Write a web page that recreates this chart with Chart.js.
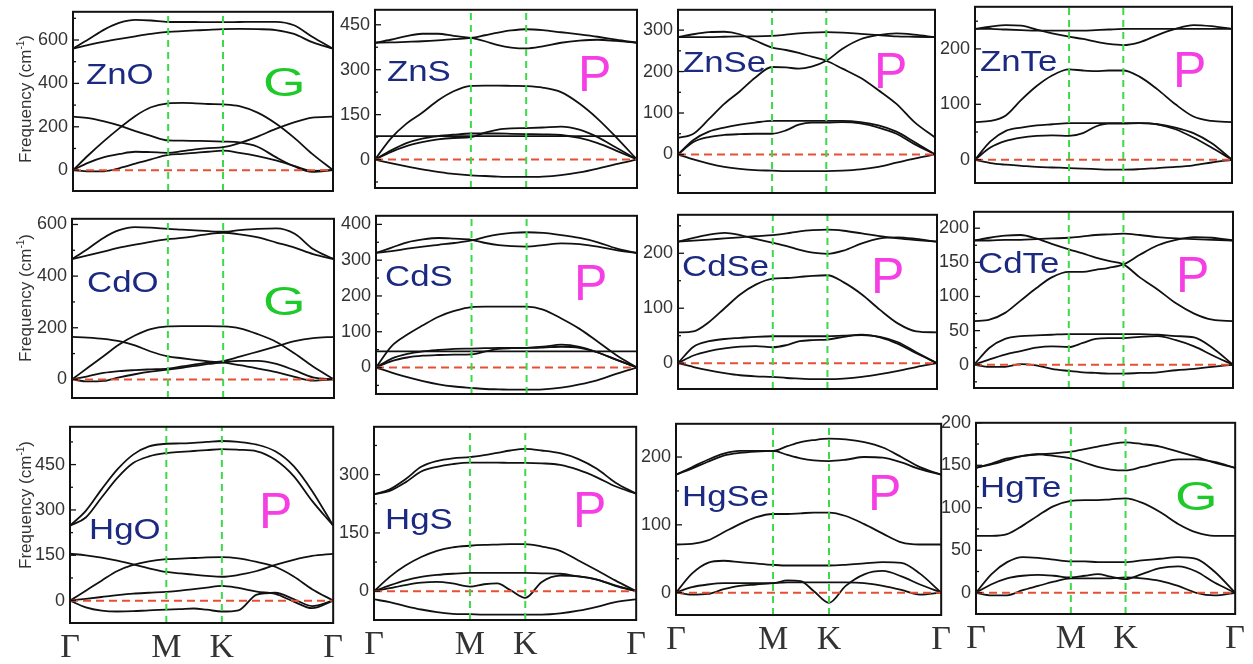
<!DOCTYPE html>
<html><head><meta charset="utf-8">
<script src="https://cdn.jsdelivr.net/npm/chart.js@4.4.0/dist/chart.umd.min.js"></script>
<style>
html,body{margin:0;padding:0;background:#fff;width:1253px;height:664px;overflow:hidden;position:relative;font-family:"Liberation Sans",Arial,sans-serif}
canvas{position:absolute}
.name{position:absolute;color:#1b2a80;font-size:29px;line-height:1;transform-origin:left center;transform:scaleX(1.2);white-space:nowrap}
.tagP{position:absolute;color:#f53ee3;font-size:50px;line-height:1;white-space:nowrap}
.tagG{position:absolute;color:#1ec92a;font-size:40px;line-height:1;transform-origin:left center;transform:scaleX(1.37);white-space:nowrap}
.ylab{position:absolute;font-size:17px;color:#333;transform:translate(-50%,-50%) rotate(-90deg);white-space:nowrap;line-height:1}
.ylab sup{font-size:10px;vertical-align:7px;line-height:0}
</style></head><body>
<script>
// path coordinate (fraction of Γ-M-K-Γ length)
const KX = [0, .06, .12, .18, .24, .30, .366, .42, .47, .52, .577, .64, .71, .78, .85, .92, 1];
const KPOINTS = [0, 0.366, 0.577, 1];
const KLABELS = ['Γ', 'M', 'K', 'Γ'];

const NAMES = ['ZnO','ZnS','ZnSe','ZnTe','CdO','CdS','CdSe','CdTe','HgO','HgS','HgSe','HgTe'];
const PHASES = ['G','P','P','P','G','P','P','P','P','P','P','G'];

const TICKS_ZnO = [0,200,400,600];
const TICKS_ZnS = [0,150,300,450];
const TICKS_ZnSe = [0,100,200,300];
const TICKS_ZnTe = [0,100,200];
const TICKS_CdO = [0,200,400,600];
const TICKS_CdS = [0,100,200,300,400];
const TICKS_CdSe = [0,100,200];
const TICKS_CdTe = [0,50,100,150,200];
const TICKS_HgO = [0,150,300,450];
const TICKS_HgS = [0,150,300];
const TICKS_HgSe = [0,100,200];
const TICKS_HgTe = [0,50,100,150,200];

const YR_ZnO = [-96, 730];
const YR_ZnS = [-95, 500];
const YR_ZnSe = [-93, 349];
const YR_ZnTe = [-42, 276];
const YR_CdO = [-72, 622];
const YR_CdS = [-74, 424];
const YR_CdSe = [-47, 270];
const YR_CdTe = [-34, 224];
const YR_HgO = [-74, 575];
const YR_HgS = [-74, 423];
const YR_HgSe = [-33, 249];
const YR_HgTe = [-25, 200];

const BANDS_ZnO = [
 [560, 603, 648, 680, 693, 690, 683, 683, 683, 682, 682, 683, 684, 684, 668, 615, 560],
 [560, 577, 592, 605, 617, 628, 637, 641, 644, 647, 650, 651, 650, 646, 628, 590, 560],
 [247, 240, 225, 205, 180, 158, 137, 136, 135, 134, 132, 128, 108, 60, 18, -8, 0],
 [0, 70, 135, 195, 250, 290, 308, 310, 308, 305, 303, 295, 265, 215, 150, 75, 0],
 [0, 35, 60, 75, 85, 83, 80, 88, 96, 102, 106, 125, 155, 190, 220, 242, 247],
 [0, -6, -5, 10, 30, 50, 70, 75, 80, 85, 90, 80, 65, 45, 20, -3, 0]
];
const BANDS_ZnS = [
 [390, 400, 412, 420, 420, 413, 406, 395, 382, 374, 371, 378, 390, 397, 400, 396, 390],
 [390, 391, 393, 395, 398, 402, 406, 415, 424, 431, 435, 432, 425, 418, 410, 400, 390],
 [0, 70, 120, 156, 197, 228, 246, 247, 247, 246, 245, 240, 225, 187, 136, 75, 0],
 [78, 78, 78, 78, 78, 78, 78, 78, 78, 78, 78, 78, 78, 78, 78, 78, 78],
 [0, 25, 45, 58, 67, 72, 75, 90, 100, 104, 105, 107, 110, 100, 75, 40, 0],
 [0, 30, 55, 70, 78, 83, 87, 87, 87, 86, 85, 84, 82, 72, 55, 30, 0],
 [0, -12, -23, -33, -41, -48, -53, -55, -57, -58, -58, -57, -52, -43, -30, -15, 0]
];
const BANDS_ZnSe = [
 [283, 283, 283, 284, 285, 285, 286, 289, 292, 294, 295, 294, 291, 288, 285, 284, 283],
 [283, 290, 295, 296, 290, 275, 258, 252, 245, 236, 226, 207, 185, 155, 122, 78, 41],
 [40, 50, 85, 122, 152, 185, 211, 210, 207, 212, 226, 255, 278, 288, 292, 289, 283],
 [0, 35, 55, 65, 72, 77, 81, 81, 81, 81, 81, 81, 78, 70, 55, 30, 0],
 [0, 30, 42, 47, 49, 50, 50, 58, 72, 77, 77, 78, 75, 65, 50, 25, 0],
 [0, -12, -22, -30, -35, -38, -39, -40, -40, -40, -40, -39, -36, -30, -20, -10, 0]
];
const BANDS_ZnTe = [
 [236, 236, 235, 234, 233, 233, 233, 233, 234, 235, 236, 236, 236, 236, 236, 236, 236],
 [236, 240, 243, 242, 235, 228, 222, 218, 213, 209, 207, 212, 225, 236, 243, 241, 236],
 [68, 70, 80, 108, 133, 152, 163, 161, 160, 161, 161, 150, 127, 100, 78, 70, 68],
 [0, 33, 52, 58, 62, 64, 66, 66, 66, 66, 66, 66, 64, 58, 48, 30, 0],
 [0, 22, 34, 40, 43, 44, 43, 48, 60, 65, 65, 66, 64, 55, 40, 22, 0],
 [0, -6, -9, -11, -13, -14, -15, -16, -17, -18, -18, -17, -15, -13, -10, -5, 0]
];
const BANDS_CdO = [
 [466, 505, 548, 578, 590, 588, 583, 580, 577, 574, 572, 578, 583, 585, 564, 505, 466],
 [466, 480, 495, 510, 522, 533, 543, 548, 555, 563, 568, 562, 550, 530, 510, 485, 466],
 [165, 162, 157, 148, 132, 108, 89, 82, 76, 70, 65, 55, 42, 28, 10, -5, 0],
 [0, 45, 90, 135, 170, 195, 205, 206, 206, 206, 205, 198, 175, 145, 100, 50, 0],
 [0, 12, 25, 32, 36, 39, 42, 50, 58, 65, 71, 88, 108, 128, 148, 160, 165],
 [0, -8, -6, 8, 20, 30, 38, 45, 52, 60, 66, 72, 72, 60, 35, 8, 0]
];
const BANDS_CdS = [
 [320, 335, 350, 358, 362, 360, 357, 348, 342, 339, 338, 342, 347, 345, 338, 328, 320],
 [320, 325, 332, 338, 343, 348, 355, 365, 372, 376, 378, 376, 370, 362, 350, 333, 320],
 [0, 60, 92, 118, 142, 158, 169, 170, 170, 170, 170, 162, 137, 108, 72, 35, 0],
 [45, 45, 45, 45, 45, 45, 45, 45, 45, 45, 45, 45, 45, 45, 45, 45, 45],
 [0, 18, 28, 33, 35, 36, 37, 45, 52, 54, 55, 58, 64, 58, 42, 22, 0],
 [0, 25, 38, 45, 49, 52, 53, 54, 55, 55, 55, 56, 58, 55, 42, 22, 0],
 [0, -14, -27, -38, -47, -53, -57, -60, -61, -62, -62, -61, -56, -47, -35, -18, 0]
];
const BANDS_CdSe = [
 [221, 223, 225, 227, 229, 231, 233, 236, 240, 242, 243, 241, 236, 231, 227, 224, 221],
 [221, 228, 234, 237, 233, 226, 219, 213, 206, 201, 199, 205, 218, 227, 229, 226, 221],
 [56, 58, 75, 100, 125, 143, 154, 155, 157, 159, 160, 147, 125, 97, 72, 58, 56],
 [0, 30, 40, 44, 46, 48, 49, 49, 49, 49, 49, 50, 51, 48, 38, 20, 0],
 [0, 14, 22, 27, 30, 31, 29, 33, 40, 42, 43, 48, 52, 47, 35, 18, 0],
 [0, -7, -13, -18, -22, -24, -25, -27, -28, -29, -29, -28, -25, -20, -14, -7, 0]
];
const BANDS_CdTe = [
 [182, 182, 183, 183, 184, 185, 186, 188, 190, 191, 192, 190, 187, 185, 184, 183, 182],
 [182, 186, 189, 190, 185, 177, 169, 163, 157, 152, 147, 128, 110, 90, 75, 66, 64],
 [64, 66, 76, 94, 112, 128, 136, 136, 139, 142, 147, 161, 175, 183, 187, 186, 182],
 [0, 25, 38, 42, 43, 44, 45, 45, 45, 45, 45, 45, 44, 42, 40, 25, 0],
 [0, 8, 15, 20, 25, 27, 26, 32, 38, 39, 39, 41, 42, 36, 27, 14, 0],
 [0, -3, -3, 1, -1, -6, -9, -11, -12, -13, -13, -12, -11, -8, -6, -3, 0]
];
const BANDS_HgO = [
 [248, 297, 368, 434, 483, 510, 519, 520, 522, 525, 528, 525, 516, 494, 445, 363, 248],
 [248, 275, 341, 406, 455, 477, 488, 492, 495, 498, 501, 499, 494, 466, 412, 330, 248],
 [155, 150, 142, 132, 120, 107, 95, 90, 86, 82, 79, 85, 98, 118, 135, 148, 155],
 [0, 33, 66, 98, 118, 130, 137, 139, 141, 143, 144, 140, 128, 112, 80, 38, 0],
 [0, 6, 12, 18, 23, 26, 29, 33, 38, 43, 49, 42, 30, 22, -3, -25, 0],
 [0, -22, -33, -36, -35, -32, -30, -28, -26, -30, -36, -32, 20, 26, 5, -18, 0]
];
const BANDS_HgS = [
 [249, 262, 288, 320, 335, 342, 345, 350, 356, 362, 366, 362, 355, 340, 315, 280, 251],
 [249, 258, 280, 308, 320, 327, 331, 331, 331, 330, 330, 329, 325, 312, 293, 270, 251],
 [0, 37, 66, 88, 104, 113, 117, 119, 120, 121, 121, 115, 104, 79, 54, 28, 0],
 [0, 15, 28, 37, 42, 45, 47, 47, 47, 47, 47, 46, 45, 38, 30, 15, 0],
 [0, 8, 16, 22, 24, 20, 12, 18, 20, 3, -17, 24, 40, 38, 30, 14, 0],
 [-21, -28, -38, -47, -54, -58, -59, -60, -60, -60, -60, -60, -57, -50, -40, -28, -21]
];
const BANDS_HgSe = [
 [174, 185, 196, 205, 209, 209, 209, 216, 222, 225, 227, 226, 222, 214, 200, 185, 174],
 [174, 183, 193, 202, 206, 208, 209, 203, 198, 195, 194, 196, 200, 199, 192, 182, 174],
 [71, 72, 77, 89, 101, 111, 116, 116, 117, 118, 118, 113, 101, 87, 74, 71, 71],
 [0, 28, 44, 47, 45, 43, 41, 40, 40, 40, 40, 41, 43, 45, 44, 28, 0],
 [0, 8, 12, 14, 14, 14, 14, 18, 17, 2, -15, 10, 27, 32, 24, 12, 0],
 [0, -3, -2, 5, 10, 12, 14, 15, 15, 15, 15, 15, 14, 10, 4, -3, 0]
];
const BANDS_HgTe = [
 [147, 152, 158, 161, 163, 164, 166, 169, 172, 175, 177, 175, 172, 166, 160, 153, 147],
 [147, 151, 156, 161, 163, 161, 158, 153, 148, 145, 144, 148, 153, 157, 157, 154, 147],
 [67, 67, 69, 79, 91, 102, 108, 109, 109, 110, 111, 106, 95, 81, 71, 67, 67],
 [0, 22, 36, 42, 41, 39, 37, 37, 36, 36, 36, 38, 40, 42, 40, 25, 0],
 [0, 10, 17, 20, 21, 20, 18, 20, 22, 19, 16, 22, 29, 31, 25, 12, 0],
 [0, -3, -3, 3, 8, 13, 17, 17, 17, 17, 18, 17, 14, 8, 0, -3, 0]
];

const DATA = {
 ZnO:[BANDS_ZnO,TICKS_ZnO,YR_ZnO], ZnS:[BANDS_ZnS,TICKS_ZnS,YR_ZnS], ZnSe:[BANDS_ZnSe,TICKS_ZnSe,YR_ZnSe], ZnTe:[BANDS_ZnTe,TICKS_ZnTe,YR_ZnTe],
 CdO:[BANDS_CdO,TICKS_CdO,YR_CdO], CdS:[BANDS_CdS,TICKS_CdS,YR_CdS], CdSe:[BANDS_CdSe,TICKS_CdSe,YR_CdSe], CdTe:[BANDS_CdTe,TICKS_CdTe,YR_CdTe],
 HgO:[BANDS_HgO,TICKS_HgO,YR_HgO], HgS:[BANDS_HgS,TICKS_HgS,YR_HgS], HgSe:[BANDS_HgSe,TICKS_HgSe,YR_HgSe], HgTe:[BANDS_HgTe,TICKS_HgTe,YR_HgTe]
};

// layout: frame [left, top, right, bottom], name [x, baseline], tag [x, baseline]
const LAYOUT = {
 ZnO:{frame:[73,10,333,205], name:[86,85], tag:[263,96]},
 ZnS:{frame:[375,8,637,202], name:[387,82], tag:[578,91]},
 ZnSe:{frame:[678,8,935,207], name:[683,73], tag:[874,88]},
 ZnTe:{frame:[975,5,1232,197], name:[980,72], tag:[1173,87]},
 CdO:{frame:[72,217,334,412], name:[87,293], tag:[263,315]},
 CdS:{frame:[376,214,637,408], name:[385,287], tag:[574,300]},
 CdSe:{frame:[678,213,937,403], name:[682,277], tag:[871,293]},
 CdTe:{frame:[974,210,1233,402], name:[978,274], tag:[1176,292]},
 HgO:{frame:[70,425,334,623], name:[89,540], tag:[259,528]},
 HgS:{frame:[374,425,637,620], name:[385,530], tag:[573,527]},
 HgSe:{frame:[676,422,942,615], name:[682,507], tag:[868,510]},
 HgTe:{frame:[976,421,1236,614], name:[980,498], tag:[1175,510]}
};
const YLAB_CENTERS = [[25,99],[25,298],[25,505]];

const SANS = '"Liberation Sans", Arial, sans-serif';
const SERIF = '"Liberation Serif", "Times New Roman", serif';
Chart.defaults.font.family = SANS;

const framePlugin = {
  id: 'frame',
  afterDatasetsDraw(chart) {
    const {ctx, chartArea: a, scales: {y}} = chart;
    ctx.save();
    ctx.strokeStyle = '#111';
    const tv = y.ticks.map(t => t.value);
    const step = tv[1] - tv[0];
    ctx.lineWidth = 1.3;
    for (let v = tv[0] - step; v <= y.max; v += step / 2) {
      if (v < y.min) continue;
      const py = y.getPixelForValue(v);
      const major = Math.abs(((v - tv[0]) / step) - Math.round((v - tv[0]) / step)) < 1e-6;
      ctx.beginPath();
      ctx.moveTo(a.left, py);
      ctx.lineTo(a.left + (major ? 6 : 3), py);
      ctx.stroke();
    }
    ctx.lineWidth = 2;
    ctx.strokeRect(a.left, a.top, a.right - a.left, a.bottom - a.top);
    ctx.restore();
  }
};

function addText(cls, html, x, baseline, fs) {
  const d = document.createElement('div');
  d.className = cls;
  d.innerHTML = html;
  d.style.left = x + 'px';
  d.style.top = (baseline - 0.8465 * fs) + 'px';
  document.body.appendChild(d);
}

NAMES.forEach((name, i) => {
  const [bands, ticks, yr] = DATA[name];
  const L = LAYOUT[name];
  const [l, t, r, b] = L.frame;
  const row3 = i >= 8;
  const padL = 62, padT = 14, padR = 14, padB = row3 ? 50 : 14;
  const cv = document.createElement('canvas');
  cv.width = r - l + padL + padR;
  cv.height = b - t + padT + padB;
  cv.style.left = (l - padL) + 'px';
  cv.style.top = (t - padT) + 'px';
  document.body.appendChild(cv);

  const [ymin, ymax] = yr;
  const vline = (xv) => ({
    data: [{x: xv, y: ymin}, {x: xv, y: ymax}],
    borderColor: '#3cd94b', borderWidth: 2, borderDash: [7, 5], pointRadius: 0, fill: false
  });
  const datasets = [
    vline(KPOINTS[1]), vline(KPOINTS[2]),
    {data: [{x: 0, y: 0}, {x: 1, y: 0}], borderColor: '#e55034', borderWidth: 2, borderDash: [8, 5], pointRadius: 0, fill: false},
    ...bands.map(arr => ({
      data: KX.map((x, j) => ({x, y: arr[j]})),
      borderColor: '#111', borderWidth: 1.8, pointRadius: 0, fill: false,
      cubicInterpolationMode: 'monotone'
    }))
  ];

  new Chart(cv, {
    type: 'line',
    data: {datasets},
    plugins: [framePlugin],
    options: {
      responsive: false, animation: false, devicePixelRatio: 1, events: [],
      layout: {padding: {left: 0, top: padT, right: padR, bottom: row3 ? 0 : padB}},
      plugins: {legend: {display: false}, tooltip: {enabled: false}},
      scales: {
        x: {
          type: 'linear', min: 0, max: 1, display: row3,
          grid: {display: false, drawTicks: false}, border: {display: false},
          afterBuildTicks: (ax) => { ax.ticks = KPOINTS.map(v => ({value: v})); },
          afterFit: (s) => { s.height = padB; },
          ticks: {autoSkip: false, maxRotation: 0, padding: 5, color: '#333',
                  font: {family: SERIF, size: 34}, callback: (v, idx) => KLABELS[idx]}
        },
        y: {
          min: ymin, max: ymax,
          grid: {display: false, drawTicks: false}, border: {display: false},
          afterBuildTicks: (ax) => { ax.ticks = ticks.map(v => ({value: v})); },
          afterFit: (s) => { s.width = padL; },
          ticks: {autoSkip: false, padding: 5, color: '#333', font: {size: 18}}
        }
      }
    }
  });

  addText('name', name, L.name[0], L.name[1], 29);
  if (PHASES[i] === 'P') addText('tagP', 'P', L.tag[0], L.tag[1], 50);
  else addText('tagG', 'G', L.tag[0], L.tag[1], 40);
});

YLAB_CENTERS.forEach(([x, y]) => {
  const d = document.createElement('div');
  d.className = 'ylab';
  d.innerHTML = 'Frequency (cm<sup>-1</sup>)';
  d.style.left = x + 'px';
  d.style.top = y + 'px';
  document.body.appendChild(d);
});
</script>
</body></html>
